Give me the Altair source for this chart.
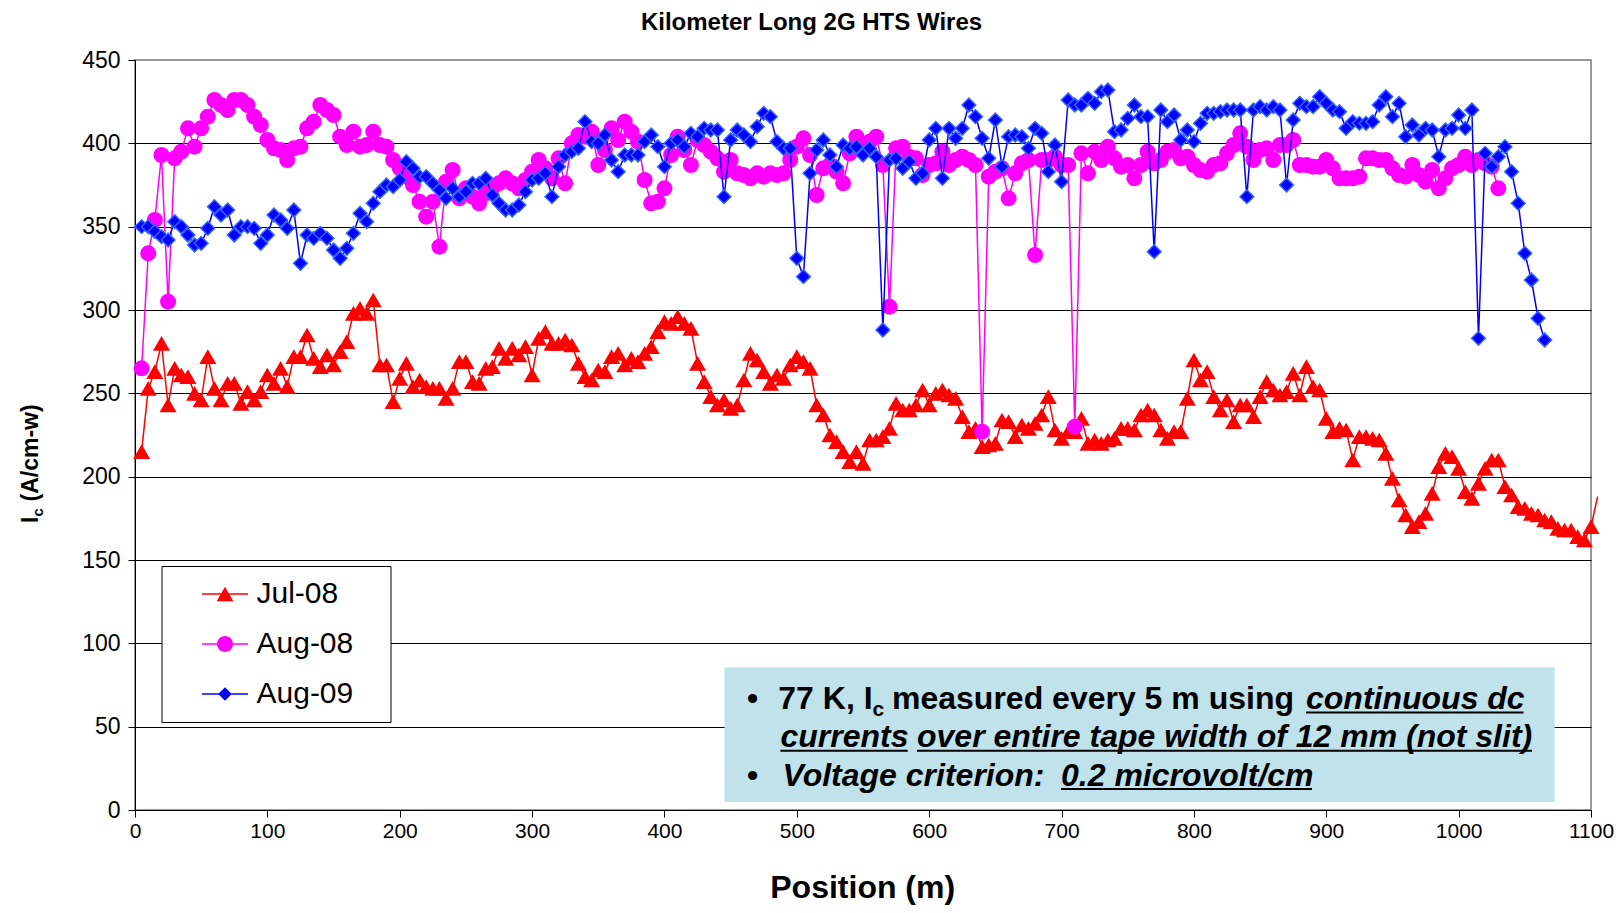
import altair as alt
import pandas as pd

FONT = "Liberation Sans"

# ---------------- data (Ic in A/cm-w, every 5 m) ----------------
jul08_values = [
    215, 253, 263, 280, 243, 265, 261, 260, 250, 246,
    272, 253, 246, 256, 256, 244, 251, 246, 251, 261,
    256, 265, 254, 272, 272, 285, 271, 266, 273, 267,
    275, 281, 298, 301, 298, 306, 267, 267, 245, 259,
    268, 254, 258, 254, 253, 253, 247, 253, 269, 269,
    257, 256, 265, 266, 277, 271, 277, 273, 278, 261,
    283, 287, 280, 280, 282, 279, 268, 260, 258, 264,
    263, 272, 274, 267, 271, 269, 274, 278, 287, 293,
    292, 296, 292, 289, 268, 257, 248, 243, 246, 241,
    243, 258, 274, 270, 263, 256, 261, 259, 267, 272,
    269, 265, 243, 237, 225, 221, 215, 209, 215, 208,
    222, 222, 224, 229, 244, 240, 240, 243, 252, 243,
    250, 252, 249, 247, 236, 227, 229, 218, 219, 220,
    234, 233, 224, 231, 229, 232, 237, 248, 228, 223,
    227, 227, 235, 220, 222, 220, 222, 223, 229, 229,
    228, 237, 240, 237, 228, 223, 227, 227, 247, 270,
    258, 263, 248, 240, 246, 233, 243, 243, 236, 248,
    257, 252, 249, 251, 262, 249, 266, 254, 252, 235,
    227, 229, 228, 210, 224, 224, 223, 222, 214, 199,
    186, 177, 170, 173, 178, 190, 206, 214, 212, 205,
    191, 187, 196, 205, 210, 210, 194, 189, 182, 181,
    178, 177, 174, 173, 169, 168, 168, 164, 162, 170,
    188,
]
aug08_values = [
    265, 334, 354, 393, 305, 391, 395, 409, 398, 409,
    416, 426, 423, 420, 426, 426, 423, 416, 411, 402,
    397, 396, 390, 397, 398, 409, 413, 423, 420, 417,
    404, 399, 407, 398, 399, 407, 399, 398, 390, 385,
    380, 375, 365, 356, 365, 338, 377, 384, 367, 373,
    368, 364, 370, 373, 376, 379, 376, 373, 378, 383,
    390, 385, 379, 391, 376, 400, 405, 404, 407, 387,
    396, 409, 402, 413, 407, 401, 378, 364, 365, 373,
    393, 404, 396, 387, 402, 399, 395, 391, 383, 390,
    382, 381, 379, 382, 380, 382, 381, 382, 390, 398,
    403, 393, 369, 385, 387, 383, 376, 394, 404, 397,
    401, 404, 387, 302, 397, 398, 392, 391, 381, 387,
    388, 395, 387, 390, 392, 390, 387, 227, 380, 383,
    385, 367, 382, 388, 390, 333, 390, 390, 392, 387,
    387, 230, 394, 382, 395, 390, 398, 391, 386, 387,
    379, 387, 395, 388, 390, 395, 396, 391, 392, 387,
    384, 383, 387, 388, 394, 399, 406, 398, 390, 396,
    397, 390, 399, 399, 402, 387, 387, 386, 386, 390,
    385, 379, 379, 379, 380, 391, 391, 390, 390, 385,
    381, 380, 387, 381, 377, 384, 373, 379, 385, 387,
    392, 387, 390, 388, 386, 373,
]
aug09_values = [
    350, 350, 347, 344, 342, 353, 350, 345, 339, 340,
    349, 362, 357, 360, 345, 350, 350, 349, 340, 345,
    357, 354, 349, 360, 328, 345, 343, 346, 343, 336,
    331, 337, 346, 358, 353, 364, 371, 375, 374, 378,
    389, 385, 380, 380, 376, 372, 367, 373, 368, 371,
    376, 376, 379, 369, 364, 360, 360, 363, 371, 378,
    379, 382, 368, 386, 393, 395, 397, 413, 401, 400,
    405, 390, 383, 393, 393, 393, 401, 405, 398, 386,
    400, 402, 398, 406, 404, 409, 408, 408, 368, 402,
    408, 405, 401, 410, 418, 416, 401, 397, 397, 331,
    320, 382, 396, 402, 393, 386, 399, 397, 398, 393,
    397, 392, 288, 390, 391, 385, 389, 379, 382, 402,
    409, 379, 409, 403, 409, 423, 416, 403, 391, 414,
    386, 404, 405, 404, 397, 409, 406, 383, 399, 377,
    426, 423, 423, 427, 424, 431, 432, 407, 408, 415,
    423, 416, 416, 335, 420, 413, 417, 402, 408, 401,
    412, 418, 418, 419, 420, 420, 420, 368, 420, 422,
    420, 422, 420, 375, 414, 424, 422, 422, 428, 424,
    420, 419, 409, 413, 412, 412, 413, 423, 428, 416,
    424, 404, 411, 405, 409, 408, 392, 408, 409, 417,
    409, 420, 283, 394, 386, 392, 398, 383, 364, 334,
    318, 295, 282,
]
jul08_pos = list(range(5, 5 * len(jul08_values) + 5, 5))
aug08_pos = list(range(5, 5 * len(aug08_values) + 5, 5))
aug09_pos = list(range(5, 5 * len(aug09_values) + 5, 5))

series_names = ["Jul-08", "Aug-08", "Aug-09"]
series_colors = ["#FF0000", "#FF00FF", "#0000FF"]
x_ticks = [0, 100, 200, 300, 400, 500, 600, 700, 800, 900, 1000, 1100]
y_ticks = [0, 50, 100, 150, 200, 250, 300, 350, 400, 450]

title_text = "Kilometer Long 2G HTS Wires"
x_title = "Position (m)"

# ---------------- layout ----------------
W, H = 1456, 750

xs = alt.Scale(domain=[0, 1100], nice=False, zero=False)
ys = alt.Scale(domain=[0, 450], nice=False)
x_axis = alt.Axis(values=x_ticks, grid=False, title=None, format="d", labelFontSize=21,
                  labelFont=FONT, labelColor="black", tickColor="black", tickSize=7,
                  domainColor="black", domainWidth=1, labelPadding=3, labelFlush=False,
                  labelOverlap=False)
y_axis = alt.Axis(values=y_ticks, grid=True, title=None, format="d", labelFontSize=23,
                  labelFont=FONT, labelColor="black", tickColor="black", tickSize=7,
                  domainColor="black", domainWidth=1, labelPadding=8, labelFlush=False,
                  labelOverlap=False,
                  gridColor={"condition": {"test": "datum.value === 450", "value": "#999999"},
                             "value": "black"},
                  gridWidth=1)


def frame(pos, vals):
    return pd.DataFrame({"pos": pos, "ic": vals})


def series_layers(df, color, shape, size, stroke, sw, point_filter=None):
    enc = dict(x=alt.X("pos:Q", scale=xs, axis=x_axis), y=alt.Y("ic:Q", scale=ys, axis=y_axis))
    line = alt.Chart(df).mark_line(color=color, strokeWidth=1.5).encode(**enc)
    pts = alt.Chart(df).mark_point(filled=True, shape=shape, size=size, fill=color, stroke=stroke,
                                   strokeWidth=sw, opacity=1).encode(**enc)
    if point_filter:
        pts = pts.transform_filter(point_filter)
    return [line, pts]


layers = []
layers += series_layers(frame(jul08_pos, jul08_values), "#FF0000", "triangle-up", 290, "#FF0000", 0,
                        "datum.pos <= 1100")
layers += series_layers(frame(aug08_pos, aug08_values), "#FF00FF", "circle", 256, "#FF00FF", 0)
layers += series_layers(frame(aug09_pos, aug09_values), "#0000FF", "diamond", 190, "#3366FF", 1.5)

# legend symbols: line + marker, drawn as filled paths (unit = 8 px);
# the trailing zero-area sub-path only widens the legend box to the right
bar = "M-2.875,-0.1H2.875V0.1H-2.875Z"
extent = "M19,0L19,0Z"
legend_paths = [
    bar + "M0,-0.9L1.04,0.9L-1.04,0.9Z" + extent,
    bar + "M1,0A1,1,0,1,1,-1,0A1,1,0,1,1,1,0Z" + extent,
    bar + "M0,-0.85L0.85,0L0,0.85L-0.85,0Z" + extent,
]


def make_legend():
    return alt.Legend(title=None, orient="none", legendX=26.5, legendY=506, padding=13,
                      fillColor="white", strokeColor="black", labelFontSize=30, labelFont=FONT,
                      labelColor="black", labelOffset=16.5, symbolOffset=35.5, symbolSize=256,
                      symbolStrokeWidth=0, rowPadding=20, labelLimit=400)


legend_layer = alt.Chart(pd.DataFrame({"series": series_names})).mark_point(
    filled=True, opacity=1).encode(
    color=alt.Color("series:N", scale=alt.Scale(domain=series_names, range=series_colors),
                    legend=make_legend()),
    shape=alt.Shape("series:N", scale=alt.Scale(domain=series_names, range=legend_paths),
                    legend=make_legend()),
).transform_filter("false")
layers.append(legend_layer)


def txt(s, x, y, size, bold=True, italic=False, align="left", angle=0):
    kw = dict(align=align, baseline="alphabetic", font=FONT, fontSize=size,
              fontWeight="bold" if bold else "normal", fontStyle="italic" if italic else "normal",
              color="black")
    if angle:
        kw["angle"] = angle
    return alt.Chart(pd.DataFrame({"t": [s]})).mark_text(**kw).encode(
        x=alt.value(x), y=alt.value(y), text="t:N")


def uline(x1, x2, y):
    return alt.Chart(pd.DataFrame({"a": [0]})).mark_rule(color="black", strokeWidth=2).encode(
        x=alt.value(x1), x2=alt.value(x2), y=alt.value(y))


# titles
layers.append(txt(title_text, 676.5, -30, 24, align="center"))
layers.append(txt(x_title, 727.7, 838, 32, align="center"))
# y title: I_c (A/cm-w), rotated
layers.append(txt("I", -97, 463, 23, angle=270))
layers.append(txt("c", -92, 456.4, 15, angle=270))
layers.append(txt("(A/cm-w)", -97, 441.5, 23, angle=270))

# annotation box
layers.append(alt.Chart(pd.DataFrame({"a": [0]})).mark_rect(color="#C0E2EA").encode(
    x=alt.value(589.5), x2=alt.value(1419.6), y=alt.value(607.6), y2=alt.value(742)))
b1, b2, b3 = 649, 687.3, 725.6
layers += [
    txt("\u2022", 612, b1, 32),
    txt("77 K, I", 643.3, b1, 32),
    txt("c", 737.5, b1 + 7, 21),
    txt("measured every 5 m using", 757, b1, 32),
    txt("continuous dc", 1171, b1, 32, italic=True), uline(1171, 1388.5, b1 + 3.5),
    txt("currents", 645.4, b2, 32, italic=True), uline(645.4, 772.7, b2 + 3.5),
    txt("over entire tape width of 12 mm (not slit)", 782, b2, 32, italic=True),
    uline(782, 1397, b2 + 3.5),
    txt("\u2022", 612, b3, 32),
    txt("Voltage criterion:", 647.5, b3, 32, italic=True),
    txt("0.2 microvolt/cm", 926, b3, 32, italic=True), uline(926, 1177, b3 + 3.5),
]

chart = alt.layer(*layers).properties(
    width=W, height=H,
    padding={"left": 127, "top": 52, "right": 24, "bottom": 95},
    autosize=alt.AutoSizeParams(type="none"),
    background="white",
).configure_view(fill="#FFFF99", stroke="#999999", strokeWidth=2)

chart.save("out.html", embed_options={"renderer": "svg", "actions": False})
